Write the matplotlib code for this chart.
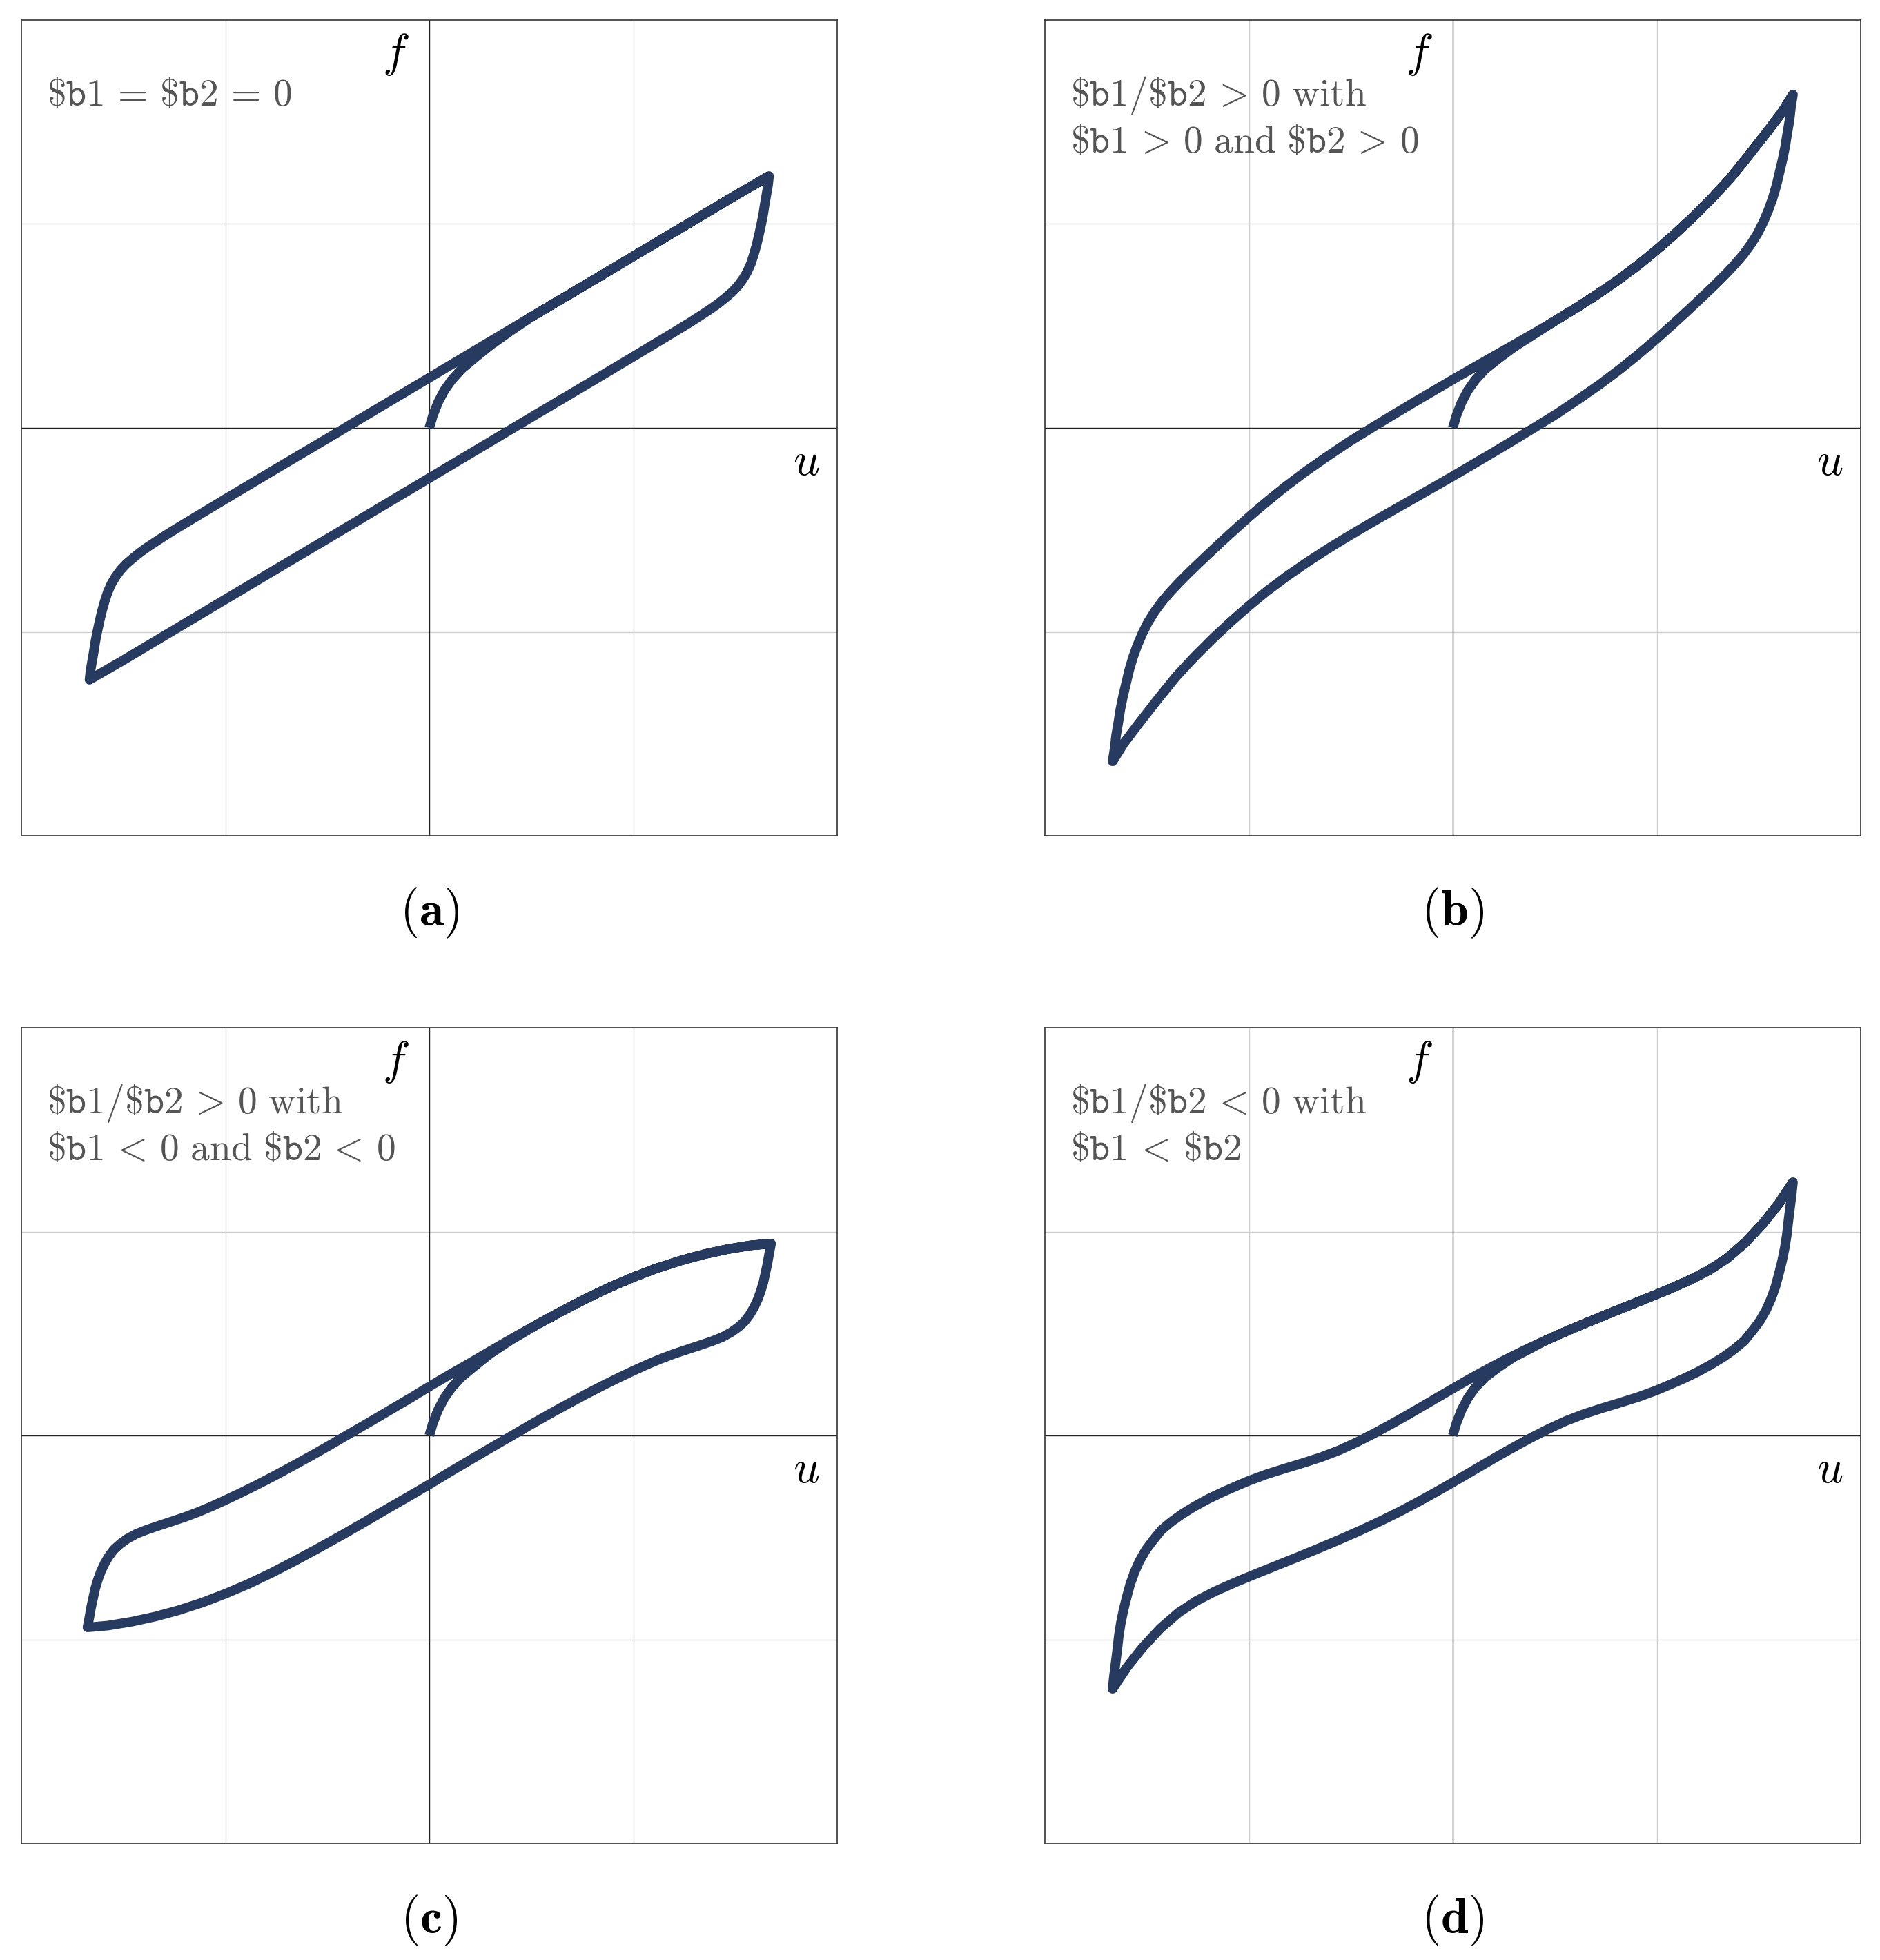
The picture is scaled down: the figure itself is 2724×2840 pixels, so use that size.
import matplotlib
matplotlib.use('Agg')
import matplotlib.pyplot as plt

plt.rcParams['mathtext.fontset'] = 'cm'

# (a) $b1 = $b2 = 0
a_vir_u = [0.0, 0.018, 0.043, 0.074, 0.11, 0.158, 0.222, 0.30, 0.40]
a_vir_f = [0.0, 0.061, 0.125, 0.184, 0.235, 0.288, 0.342, 0.405, 0.476]
a_up_u = [-1.666, -1.661, -1.653, -1.645, -1.638, -1.628, -1.617, -1.605, -1.592, -1.577,
          -1.559, -1.538, -1.513, -1.485, -1.452, -1.416, -1.375, -1.329, -1.278, -1.219,
          -1.156, -1.0, -0.75, -0.5, -0.25, 0.0, 0.25, 0.5, 0.75, 1.0, 1.25, 1.5, 1.666]
a_up_f = [-1.235, -1.189, -1.143, -1.097, -1.051, -1.0, -0.949, -0.898, -0.852, -0.806,
          -0.765, -0.730, -0.696, -0.666, -0.638, -0.609, -0.580, -0.550, -0.517, -0.481,
          -0.443, -0.349, -0.200, -0.052, 0.097, 0.246, 0.395, 0.544, 0.692, 0.841, 0.990, 1.139, 1.235]
a_lo_u = [1.666, 1.661, 1.653, 1.645, 1.638, 1.628, 1.617, 1.605, 1.592, 1.577,
          1.559, 1.538, 1.513, 1.485, 1.452, 1.416, 1.375, 1.329, 1.278, 1.219,
          1.156, 1.0, 0.75, 0.5, 0.25, 0.0, -0.25, -0.5, -0.75, -1.0, -1.25, -1.5, -1.666]
a_lo_f = [1.235, 1.189, 1.143, 1.097, 1.051, 1.0, 0.949, 0.898, 0.852, 0.806,
          0.765, 0.730, 0.696, 0.666, 0.638, 0.609, 0.580, 0.550, 0.517, 0.481,
          0.443, 0.349, 0.200, 0.052, -0.097, -0.246, -0.395, -0.544, -0.692, -0.841, -0.990, -1.139, -1.235]

# (b) $b1/$b2 > 0, both positive
b_vir_u = [0.0, 0.018, 0.043, 0.074, 0.11, 0.158, 0.222, 0.30, 0.40]
b_vir_f = [0.0, 0.061, 0.125, 0.184, 0.235, 0.287, 0.338, 0.396, 0.460]
b_up_u = [-1.666, -1.658, -1.651, -1.640, -1.630, -1.617, -1.602, -1.587, -1.569, -1.548,
          -1.523, -1.495, -1.462, -1.426, -1.385, -1.339, -1.283, -1.219, -1.151, -1.079,
          -1.0, -0.913, -0.824, -0.722, -0.620, -0.513, -0.403, -0.301, -0.199, -0.097,
          0.0, 0.094, 0.196, 0.298, 0.401, 0.503, 0.605, 0.707, 0.809, 0.911,
          1.0, 1.089, 1.179, 1.268, 1.357, 1.446, 1.536, 1.612, 1.668]
b_up_f = [-1.635, -1.571, -1.508, -1.444, -1.380, -1.316, -1.253, -1.189, -1.128, -1.069,
          -1.010, -0.954, -0.901, -0.852, -0.804, -0.755, -0.699, -0.638, -0.574, -0.508,
          -0.437, -0.363, -0.291, -0.214, -0.143, -0.071, -0.003, 0.059, 0.120, 0.180,
          0.237, 0.291, 0.349, 0.407, 0.466, 0.526, 0.588, 0.654, 0.724, 0.800,
          0.873, 0.951, 1.035, 1.124, 1.220, 1.330, 1.445, 1.545, 1.635]
b_lo_u = [1.666, 1.658, 1.651, 1.640, 1.630, 1.617, 1.602, 1.587, 1.569, 1.548,
          1.523, 1.495, 1.462, 1.426, 1.385, 1.339, 1.283, 1.219, 1.151, 1.079,
          1.0, 0.913, 0.824, 0.722, 0.620, 0.513, 0.403, 0.301, 0.199, 0.097,
          0.0, -0.094, -0.196, -0.298, -0.401, -0.503, -0.605, -0.707, -0.809, -0.911,
          -1.0, -1.089, -1.179, -1.268, -1.357, -1.446, -1.536, -1.612, -1.668]
b_lo_f = [1.635, 1.571, 1.508, 1.444, 1.380, 1.316, 1.253, 1.189, 1.128, 1.069,
          1.010, 0.954, 0.901, 0.852, 0.804, 0.755, 0.699, 0.638, 0.574, 0.508,
          0.437, 0.363, 0.291, 0.214, 0.143, 0.071, 0.003, -0.059, -0.120, -0.180,
          -0.237, -0.291, -0.349, -0.407, -0.466, -0.526, -0.588, -0.654, -0.724, -0.800,
          -0.873, -0.951, -1.035, -1.124, -1.220, -1.330, -1.445, -1.545, -1.635]

# (c) $b1/$b2 > 0, both negative
c_vir_u = [0.0, 0.018, 0.043, 0.074, 0.11, 0.158, 0.222, 0.30, 0.40]
c_vir_f = [0.0, 0.061, 0.125, 0.184, 0.235, 0.287, 0.340, 0.402, 0.468]
c_up_u = [-1.671, -1.666, -1.658, -1.648, -1.638, -1.625, -1.610, -1.592, -1.571, -1.546,
          -1.515, -1.480, -1.436, -1.385, -1.329, -1.265, -1.199, -1.130, -1.066, -1.0,
          -0.926, -0.849, -0.760, -0.671, -0.582, -0.492, -0.403, -0.301, -0.199, -0.097,
          0.0, 0.099, 0.202, 0.311, 0.426, 0.541, 0.656, 0.770, 0.885, 1.0,
          1.115, 1.230, 1.344, 1.459, 1.574, 1.676]
c_up_f = [-0.934, -0.888, -0.842, -0.796, -0.750, -0.707, -0.666, -0.628, -0.592, -0.559,
          -0.531, -0.506, -0.482, -0.462, -0.443, -0.422, -0.400, -0.374, -0.347, -0.317,
          -0.282, -0.244, -0.198, -0.150, -0.101, -0.050, 0.002, 0.061, 0.121, 0.181,
          0.240, 0.298, 0.357, 0.421, 0.487, 0.551, 0.613, 0.672, 0.727, 0.776,
          0.820, 0.857, 0.888, 0.913, 0.932, 0.941]
c_lo_u = [1.671, 1.666, 1.658, 1.648, 1.638, 1.625, 1.610, 1.592, 1.571, 1.546,
          1.515, 1.480, 1.436, 1.385, 1.329, 1.265, 1.199, 1.130, 1.066, 1.0,
          0.926, 0.849, 0.760, 0.671, 0.582, 0.492, 0.403, 0.301, 0.199, 0.097,
          0.0, -0.099, -0.202, -0.311, -0.426, -0.541, -0.656, -0.770, -0.885, -1.0,
          -1.115, -1.230, -1.344, -1.459, -1.574, -1.676]
c_lo_f = [0.934, 0.888, 0.842, 0.796, 0.750, 0.707, 0.666, 0.628, 0.592, 0.559,
          0.531, 0.506, 0.482, 0.462, 0.443, 0.422, 0.400, 0.374, 0.347, 0.317,
          0.282, 0.244, 0.198, 0.150, 0.101, 0.050, -0.002, -0.061, -0.121, -0.181,
          -0.240, -0.298, -0.357, -0.421, -0.487, -0.551, -0.613, -0.672, -0.727, -0.776,
          -0.820, -0.857, -0.888, -0.913, -0.932, -0.941]

# (d) $b1/$b2 < 0, $b1 < $b2
d_vir_u = [0.0, 0.018, 0.043, 0.074, 0.11, 0.158, 0.222, 0.30, 0.38]
d_vir_f = [0.0, 0.061, 0.125, 0.184, 0.235, 0.285, 0.333, 0.385, 0.426]
d_up_u = [-1.666, -1.661, -1.653, -1.645, -1.638, -1.628, -1.615, -1.599, -1.582, -1.561,
          -1.536, -1.505, -1.469, -1.429, -1.380, -1.327, -1.265, -1.199, -1.130, -1.059,
          -1.0, -0.913, -0.824, -0.735, -0.645, -0.556, -0.467, -0.390, -0.314, -0.237,
          -0.161, -0.079, 0.0, 0.082, 0.171, 0.260, 0.349, 0.452, 0.554, 0.656,
          0.758, 0.860, 0.962, 1.064, 1.166, 1.255, 1.344, 1.434, 1.523, 1.599, 1.668]
d_up_f = [-1.240, -1.176, -1.112, -1.048, -0.985, -0.921, -0.857, -0.793, -0.730, -0.671,
          -0.615, -0.561, -0.513, -0.464, -0.423, -0.385, -0.347, -0.311, -0.278, -0.247,
          -0.222, -0.190, -0.162, -0.135, -0.106, -0.072, -0.031, 0.008, 0.049, 0.092,
          0.136, 0.184, 0.230, 0.277, 0.326, 0.373, 0.417, 0.465, 0.510, 0.553,
          0.595, 0.636, 0.677, 0.719, 0.764, 0.810, 0.868, 0.946, 1.042, 1.138, 1.242]
d_lo_u = [1.666, 1.661, 1.653, 1.645, 1.638, 1.628, 1.615, 1.599, 1.582, 1.561,
          1.536, 1.505, 1.469, 1.429, 1.380, 1.327, 1.265, 1.199, 1.130, 1.059,
          1.0, 0.913, 0.824, 0.735, 0.645, 0.556, 0.467, 0.390, 0.314, 0.237,
          0.161, 0.079, 0.0, -0.082, -0.171, -0.260, -0.349, -0.452, -0.554, -0.656,
          -0.758, -0.860, -0.962, -1.064, -1.166, -1.255, -1.344, -1.434, -1.523, -1.599, -1.668]
d_lo_f = [1.240, 1.176, 1.112, 1.048, 0.985, 0.921, 0.857, 0.793, 0.730, 0.671,
          0.615, 0.561, 0.513, 0.464, 0.423, 0.385, 0.347, 0.311, 0.278, 0.247,
          0.222, 0.190, 0.162, 0.135, 0.106, 0.072, 0.031, -0.008, -0.049, -0.092,
          -0.136, -0.184, -0.230, -0.277, -0.326, -0.373, -0.417, -0.465, -0.510, -0.553,
          -0.595, -0.636, -0.677, -0.719, -0.764, -0.810, -0.868, -0.946, -1.042, -1.138, -1.242]

notes = [
    [r'$\mathtt{\$b1}\,=\,\mathtt{\$b2}\,=\,0$'],
    [r'$\mathtt{\$b1}/\mathtt{\$b2}\,>\,0\ \mathrm{with}$',
     r'$\mathtt{\$b1}\,>\,0\ \mathrm{and}\ \mathtt{\$b2}\,>\,0$'],
    [r'$\mathtt{\$b1}/\mathtt{\$b2}\,>\,0\ \mathrm{with}$',
     r'$\mathtt{\$b1}\,<\,0\ \mathrm{and}\ \mathtt{\$b2}\,<\,0$'],
    [r'$\mathtt{\$b1}/\mathtt{\$b2}\,<\,0\ \mathrm{with}$',
     r'$\mathtt{\$b1}\,<\,\mathtt{\$b2}$'],
]
captions = ['(a)', '(b)', '(c)', '(d)']

panels = [(a_vir_u, a_vir_f, a_up_u, a_up_f, a_lo_u, a_lo_f),
          (b_vir_u, b_vir_f, b_up_u, b_up_f, b_lo_u, b_lo_f),
          (c_vir_u, c_vir_f, c_up_u, c_up_f, c_lo_u, c_lo_f),
          (d_vir_u, d_vir_f, d_up_u, d_up_f, d_lo_u, d_lo_f)]

W, H = 2724, 2840
fig = plt.figure(figsize=(W / 200, H / 200), dpi=200)

# axes boxes in pixels: left, top
boxes = [(31, 29), (1514, 29), (31, 1489), (1514, 1489)]
size = 1182
col = '#273a5f'

for i in range(4):
    x0, y0 = boxes[i]
    ax = fig.add_axes([x0 / W, 1 - (y0 + size) / H, size / W, size / H])
    ax.set_xlim(-2, 2)
    ax.set_ylim(-2, 2)
    ax.set_xticks([])
    ax.set_yticks([])
    for s in ax.spines.values():
        s.set_color('#333333')
        s.set_linewidth(0.6)
    for g in [-1, 1]:
        ax.axvline(g, color='#cfcfcf', lw=0.5, zorder=0)
        ax.axhline(g, color='#cfcfcf', lw=0.5, zorder=0)
    ax.axvline(0, color='#222222', lw=0.5, zorder=1)
    ax.axhline(0, color='#222222', lw=0.5, zorder=1)

    vir_u, vir_f, up_u, up_f, lo_u, lo_f = panels[i]
    # whole history: first loading up to the tip, unload, reload
    tail = [k for k in range(len(up_u)) if up_u[k] > vir_u[-1] + 0.04]
    path_u = vir_u + [up_u[k] for k in tail] + lo_u[1:] + up_u[1:]
    path_f = vir_f + [up_f[k] for k in tail] + lo_f[1:] + up_f[1:]
    ax.plot(path_u, path_f, color=col, lw=5.0,
            solid_capstyle='butt', solid_joinstyle='round', zorder=3)

    ax.text(-0.166, 1.83, r'$f$', fontsize=24, ha='center', va='center')
    ax.text(1.85, -0.165, r'$u$', fontsize=24, ha='center', va='center')

    base = [1.579, 1.349]
    for j, line in enumerate(notes[i]):
        ax.text(-1.875, base[j], line, fontsize=20, color='#555555', ha='left', va='baseline')

    fig.text((x0 + size / 2) / W, 1 - (y0 + size + 112) / H, r'$\mathbf{' + captions[i] + '}$',
             fontsize=26, ha='center', va='center')

fig.savefig('out.png', dpi=200)
